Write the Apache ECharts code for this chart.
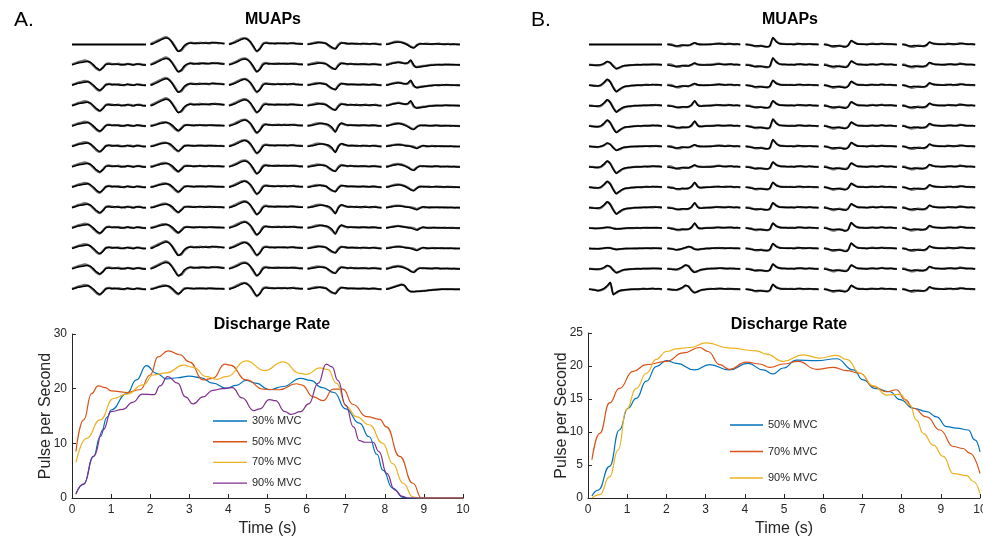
<!DOCTYPE html>
<html><head><meta charset="utf-8">
<script src="https://cdn.jsdelivr.net/npm/echarts@6.0.0/dist/echarts.min.js"></script>
<style>html,body{margin:0;padding:0;background:#fff}#c{width:983px;height:539px}</style>
</head><body><div id="c"></div>
<script>
// ---------------- Discharge rate data (time s, pulses per second) ----------------
const rateA30 = [[0.1,0.8],[0.3,2.5],[0.55,7.6],[0.72,11.2],[0.9,14.8],[1.0,16.1],[1.4,19.1],[1.65,21.6],[1.9,24.2],[2.16,22.8],[2.42,21.8],[2.7,22],[3.0,22.3],[3.3,22],[3.6,21],[3.95,20.1],[4.2,20.6],[4.45,21.5],[4.7,21],[5.05,19.8],[5.4,20.4],[5.85,21.9],[6.1,21.5],[6.4,20.2],[6.7,19.3],[7.0,16.3],[7.35,13.7],[7.6,11.2],[7.8,8],[7.95,5.1],[8.2,1.8],[8.47,0.1],[8.6,0],[10,0]];
const rateA50 = [[0.1,8.5],[0.3,14.3],[0.5,19.1],[0.67,20.5],[0.85,20.2],[1.0,19.6],[1.4,19.3],[1.74,19.8],[2.0,22.5],[2.2,25.8],[2.46,26.9],[2.76,26.2],[3.0,24.9],[3.36,21.6],[3.6,21.9],[3.91,24.5],[4.04,24.3],[4.46,21.6],[4.9,19.9],[5.3,19.8],[5.74,20.9],[5.87,20.7],[6.17,18.5],[6.42,17.8],[6.68,19.9],[6.93,19.9],[7.19,17.1],[7.53,14.9],[7.87,14.4],[8.04,13],[8.38,7.6],[8.72,2.7],[8.94,0],[10,0]];
const rateA70 = [[0.1,6.5],[0.37,10.9],[0.72,14.3],[1.06,18.2],[1.4,19],[1.82,20.7],[2.08,22.5],[2.42,22.9],[2.85,24.3],[3.1,23.9],[3.44,22.2],[3.7,21.7],[3.95,22.2],[4.46,25.1],[4.92,23.3],[5.4,24.9],[5.83,22.8],[6.0,22.6],[6.34,23.8],[6.55,23.5],[6.76,21],[7.02,16.7],[7.27,14.9],[7.6,13.4],[7.95,10],[8.2,6.3],[8.47,2.7],[8.72,0.2],[8.85,0],[10,0]];
const rateA90 = [[0.1,0.7],[0.3,2.6],[0.55,7.6],[0.8,12.5],[1.0,15.8],[1.3,16.2],[1.55,17.5],[1.8,19],[2.1,18.9],[2.25,20.5],[2.45,22.2],[2.7,21],[2.9,18.5],[3.1,17.2],[3.35,18.5],[3.6,19.7],[3.85,20],[4.1,20.2],[4.35,18.3],[4.65,16],[4.8,16.3],[5.05,18],[5.2,17.8],[5.45,15.8],[5.6,15.3],[5.85,15.8],[6.05,17.2],[6.3,21],[6.5,24.5],[6.65,24],[6.8,21.5],[7.0,17],[7.2,13],[7.35,10.5],[7.5,10.2],[7.7,10.2],[7.85,8.5],[8.05,4.5],[8.25,1.5],[8.45,0.3],[8.6,0],[10,0]];

const rateB50 = [[0.1,0.3],[0.26,1.2],[0.55,4.8],[0.8,10.3],[1.02,13.6],[1.23,15.1],[1.49,17.7],[1.74,19.9],[2.0,20.8],[2.26,20.4],[2.72,19.4],[3.1,20.2],[3.6,19.4],[4.08,20.4],[4.47,19.4],[4.72,18.8],[4.98,19.7],[5.32,20.9],[5.83,20.8],[6.34,21.1],[6.77,19.4],[7.02,17.9],[7.32,16.6],[7.7,16.1],[7.96,14.9],[8.3,13.6],[8.64,13.1],[8.89,12.3],[9.15,10.8],[9.4,10.6],[9.7,10.3],[9.87,8.8],[10,7]];
const rateB70 = [[0.1,5.8],[0.3,9.8],[0.55,14.4],[0.8,16.6],[1.15,19.2],[1.49,20.2],[2.0,20.7],[2.43,22],[2.85,22.8],[3.06,22.2],[3.36,20.2],[3.6,19.5],[4.04,20.6],[4.38,20.3],[4.64,19.8],[4.98,20.3],[5.36,20.7],[5.83,19.5],[6.26,19.8],[6.6,19.3],[6.94,18.9],[7.28,16.9],[7.62,16.1],[7.87,16.4],[8.09,14.9],[8.3,13.6],[8.64,12.3],[8.98,10.3],[9.32,7.8],[9.57,7.5],[9.74,6.8],[10,3.7]];
const rateB90 = [[0.1,0],[0.3,0.5],[0.55,3.2],[0.77,7.3],[0.98,13.4],[1.23,16.6],[1.49,18.9],[1.74,21],[2.0,22.2],[2.26,22.6],[2.6,22.8],[3.02,23.5],[3.62,22.7],[4.3,22.3],[4.55,21.8],[4.98,20.7],[5.49,21.7],[5.91,21.2],[6.34,21.6],[6.6,21],[6.94,18.9],[7.28,17],[7.62,15.6],[7.96,15.7],[8.21,14.1],[8.38,11.8],[8.55,9.8],[8.81,8],[9.06,6.3],[9.32,3.7],[9.66,3.4],[9.83,2.5],[10,0.7]];

const legendA = ['30% MVC','50% MVC','70% MVC','90% MVC'];
const legendB = ['50% MVC','70% MVC','90% MVC'];
const ticksA = [0,10,20,30];
const ticksB = [0,5,10,15,20,25];
const xTicks = [0,1,2,3,4,5,6,7,8,9,10];

// ---------------- MUAP waveform templates (two overlaid traces each) ----------------
const FLAT = [0,0];
const A_c0_1 = [0,1,2,2.5,3,3.5,2.5,0,-3,-5,-3,0.5,1,0.5,1,0.5,0,0.5,1,0.3,0,1,0.5,0,0];
const A_c0_2 = [0.5,1.5,2.8,3.5,4.5,4,2,-1,-4,-5.5,-2.5,0.8,1.5,1,0.5,1.2,0.5,0,1,0.8,0.2,0.8,1,0.2,0];
const A_c1_1 = [0,1,2.5,4,5.5,6.5,5.5,2,-3,-7,-5,-1,1,1.5,1,1.5,1,1.8,1.2,1.5,2,1.5,1.8,1,1];
const A_c1_2 = [0.5,2,3.5,5,6.5,7.5,6,2.5,-2,-6.5,-6,-2,0.5,2,1.5,1,2,1.2,1.8,1,1.6,2,1.2,1.5,0.8];
const A_c1s_1 = [0,0.5,1.5,2.5,3,3.5,3,1,-2,-4.5,-2.5,0.5,1,0.8,0.5,1,0.8,1,0.5,0.8,1,0.5,0.8,0.5,0.3];
const A_c1s_2 = [0.5,1,2,3,4,4,2.5,0,-3,-5,-2,1,1.2,1,0.8,0.6,1.2,0.6,0.9,1.1,0.6,0.9,0.5,0.6,0.4];
const A_c2_1 = [0,1,2,3.5,5,6,5,2.5,-2,-6.5,-4.5,0,1.5,1,1.2,0.8,1,1.2,1,0.8,1.5,1,0.8,0.5,0.5];
const A_c2_2 = [0.5,1.5,3,4.5,6,6.5,5.5,2,-3,-7,-4,1,2,1.5,1,1.3,1.5,1,1.4,1.2,1,1.6,1,0.8,0.6];
const A_c3_1 = [0,0.5,1,1.5,2,1.5,1,-1,-3,-4.5,-1,1.5,1.5,1,0.8,1,0.5,0.8,1,0.5,0.5,1,0.5,0.3,0];
const A_c3_2 = [0.5,1,1.8,2.5,2.2,2,1,-1.5,-3.5,-4,0,2,1.2,0.6,1.2,0.6,1,0.4,0.6,1,0.4,0.5,1,0.2,0.2];
const A_c3s_1 = [0,0.5,1,1.8,2.5,2.5,2,1,-1.5,-6,-0.5,3,2,1,0.8,1,0.5,0.8,1,0.5,0.5,1,0.5,0.3,0];
const A_c3s_2 = [0.5,1,2,2.8,3,2.5,1.5,0,-2.5,-5.5,0.5,2.5,1.5,0.8,1.2,0.6,1,0.4,0.6,1,0.4,0.5,1,0.2,0.2];
const A_c4a_1 = [0,0.5,1.5,2,2.5,2,1,-0.5,-2.5,-3.5,-1,0.5,0.8,0.5,0.3,0.5,0.8,0.4,0.2,0.5,0.3,0.1,0.4,0,0];
const A_c4a_2 = [0.5,1,2,2.8,3,2.5,1.5,0,-2,-3,-0.5,1,0.5,0.8,0.6,0.3,0.5,0.8,0.5,0.2,0.6,0.4,0.2,0.3,0];
const A_c4b_1 = [0,0.5,1.5,2,2.5,2,1.5,2,5,0,-2.5,-2,-1.5,-1,-0.5,-0.3,0,0.3,0,0.5,0.2,0.4,0.1,0.2,0];
const A_c4b_2 = [0.5,1,2,2.5,3,2.5,1.5,1.5,4,-1,-2,-1.5,-1,-0.8,-0.2,0,0.3,0,0.4,0.2,0.5,0.1,0.3,0,0];
const A_c4c_1 = [0,0.5,1,1.5,1.8,1.5,1,0.5,0,-1,-2,-0.5,1,0.5,0,0.3,0.5,0.2,0.4,0.1,0.3,0.2,0,0.1,0];
const A_c4c_2 = [0.3,0.8,1.5,2,2.2,1.8,1.2,0.8,0.5,0,-1.5,0,0.5,0.2,0.5,0.6,0.2,0.5,0.2,0.4,0.1,0.3,0.2,0,0];
const A_c4d_1 = [0,0.5,1.5,2.5,3.5,4.5,4,0,-2.5,-2.5,-2,-2,-1.8,-1.5,-1,-0.8,-0.5,-0.3,0,0,0.2,0,0.1,0,0];
const A_c4d_2 = [0.5,1,2,3,4,5,3.5,-0.5,-2,-2.2,-2.2,-1.8,-1.5,-1.2,-0.8,-0.5,-0.3,0,0.2,0.2,0,0.2,0,0,0];

const B_c0_1 = [0,-0.3,-0.6,-0.4,0.5,3,6,3,-2.5,-6.5,-4,-2,-1,-0.6,-0.3,-0.1,0,0.2,0.4,0.2,0.5,0.8,0.4,0.6,0.2];
const B_c0_2 = [0.3,0,-0.3,-0.8,0,2.5,5.5,3.5,-2,-6,-4.5,-2.5,-1.2,-0.8,-0.4,0,0.2,0,0.3,0.6,0.3,0.4,0.8,0.3,0];
const B_c0m_1 = [0,-0.2,-0.4,-0.2,0.3,1.5,3.5,2,-1.5,-4,-2.5,-1.2,-0.6,-0.3,-0.1,0,0.1,0.2,0.3,0.2,0.4,0.6,0.3,0.4,0.1];
const B_c0m_2 = [0.3,0,-0.3,-0.6,0,1.2,3,2.2,-1,-3.5,-3,-1.5,-0.8,-0.4,-0.2,0,0.2,0,0.3,0.5,0.2,0.3,0.6,0.2,0];
const B_c0t_1 = [0,-0.2,-0.3,-0.2,0,0.4,0.8,0.5,-0.5,-1,-0.6,-0.3,-0.1,0,0.1,0,0.1,0.2,0.3,0.2,0.3,0.4,0.2,0.3,0.1];
const B_c0t_2 = [0.2,0,-0.2,-0.4,0,0.3,0.6,0.6,-0.2,-0.8,-0.7,-0.4,-0.2,0,0,0.1,0.2,0,0.2,0.4,0.2,0.2,0.4,0.1,0];
const B_c0x_1 = [0,-0.3,-0.8,-1.2,-0.5,1,3.5,7,-5.5,-3,-1.5,-0.8,-0.5,-0.2,0,0,0.2,0.3,0.5,0.2,0.6,0.8,0.4,0.5,0.2];
const B_c0x_2 = [0.3,-0.2,-0.5,-1.5,-0.8,0.5,3,6.5,-5,-3.5,-1.8,-1,-0.5,-0.3,0,0.2,0,0.3,0.6,0.3,0.5,0.6,0.3,0.4,0];
const B_c1_1 = [0,-0.5,-1,-1.5,-1,-0.5,-1,-0.8,0.5,1.8,0.5,0,0,0,0,0.2,0.5,0.8,0.5,0.3,0.5,0.8,0.3,0.5,0];
const B_c1_2 = [0.5,0.5,-0.5,-2,-2,-1,-0.5,-1,0,1.5,0.3,0.2,0,0.2,0.3,0.5,1,1.2,0.8,0.3,0.8,0.5,0.1,0.3,0];
const B_c1s_1 = [0,-0.5,-0.8,-1.5,-1.5,-1,-1.2,-1,1,5,0.5,-0.5,-0.2,0,0,0.2,0.5,0.8,0.5,0.3,0.5,0.8,0.3,0.5,0];
const B_c1s_2 = [0.4,0,-0.5,-1.8,-2,-1.5,-1.5,-1.2,0.5,4.5,1,-0.3,0,0.2,0.3,0.5,0.8,0.5,0.3,0.6,0.8,0.4,0.2,0.3,0];
const B_c1m_1 = [0,-0.3,-0.8,-1.2,-0.8,0,1,2,1,-0.8,-1,-0.5,-0.2,0,0,0.3,0.5,0.3,0.6,0.3,0.2,0.4,0.2,0.3,0];
const B_c1m_2 = [0.3,0,-0.5,-1.5,-1.2,-0.3,0.8,1.6,1.2,-0.5,-1.2,-0.6,-0.3,0.1,0.2,0.5,0.3,0.6,0.3,0.2,0.5,0.3,0.1,0.2,0];
const B_c1b_1 = [0,-0.3,-0.6,-0.5,0.5,2,4,2.5,-1.5,-3.5,-2,-0.8,-0.3,0,0.2,0.5,0.3,0.6,0.8,0.4,0.2,0.5,0.3,0.2,0];
const B_c1b_2 = [0.3,0,-0.3,-0.8,0,1.5,3.5,3,-1,-3,-2.5,-1,-0.5,0.2,0.4,0.3,0.6,0.9,0.5,0.3,0.6,0.4,0.2,0.1,0];
const B_c2_1 = [0,-0.3,-1,-1.5,-1.2,-1.5,-2,-2.2,-1,7,3,1,0.5,0.3,0.2,0.2,0,0.5,0.8,0.5,0.2,0.6,0.3,0.2,0];
const B_c2_2 = [0.3,0,-0.5,-1.8,-2,-1.2,-1.6,-2.5,-1.5,6.5,3.5,1.2,0.6,0.5,0.3,0.5,0.3,0.8,0.5,0.2,0.4,0.5,0.2,0.1,0];
const B_c2m_1 = [0,-0.3,-1,-1.5,-1.2,-1.5,-2,-2,-0.8,5,2,0.8,0.4,0.3,0.2,0.2,0,0.5,0.8,0.5,0.2,0.6,0.3,0.2,0];
const B_c2m_2 = [0.3,0,-0.5,-1.8,-2,-1.2,-1.6,-2.3,-1.2,4.5,2.5,1,0.5,0.5,0.3,0.5,0.3,0.8,0.5,0.2,0.4,0.5,0.2,0.1,0];
const B_c3_1 = [0,-0.5,-1,-1.5,-1.2,-1.5,-2,-2.5,-1,4,2,0.5,0.3,0.2,0,0.3,0.5,0.2,0.5,0.8,0.3,0.5,0.6,0.2,0];
const B_c3_2 = [0.5,0,-1.5,-2.5,-2,-1,-1.5,-2,-0.5,3.5,2.2,0.8,0.5,0.4,0.2,0.5,0.8,0.4,0.3,1,0.6,0.3,0.4,0.1,0];
const B_c3b_1 = [0,-0.5,-1,-1.5,-1.2,-1.5,-2,-3,-1.5,5.5,2.5,0.8,0.4,0.2,0,0.3,0.5,0.2,0.5,0.8,0.3,0.5,0.6,0.2,0];
const B_c3b_2 = [0.5,0,-1.5,-2.5,-2,-1,-1.5,-2.5,-1,5,2.8,1,0.5,0.4,0.2,0.5,0.8,0.4,0.3,1,0.6,0.3,0.4,0.1,0];
const B_c4_1 = [0,-0.5,-1.2,-1.5,-1,-1.5,-1.8,-1.5,-0.5,2.5,1,0.5,0.3,0.2,0,0.5,0.8,0.5,0.3,0.8,1,0.5,0.3,0.5,0];
const B_c4_2 = [0.5,0,-1.5,-2.5,-2.2,-1,-1.2,-1.8,-0.8,2,1.2,0.6,0.4,0.3,0.5,0.8,0.4,0.2,0.6,1.5,0.8,0.3,0.4,0.2,0];

// which template sits in each cell (13 rows x 5 columns)
const muapMapA = [
  ['flat','c1','c2','c3','c4a'],
  ['c0','c1','c2','c3','c4b'],
  ['c0','c1','c2','c3','c4b'],
  ['c0','c1','c2','c3','c4b'],
  ['c0','c1s','c2','c3s','c4a'],
  ['c0','c1s','c2','c3s','c4c'],
  ['c0','c1s','c2','c3','c4a'],
  ['c0','c1s','c2','c3','c4a'],
  ['c0','c1s','c2','c3s','c4c'],
  ['c0','c1s','c2','c3s','c4c'],
  ['c0','c1','c2','c3','c4c'],
  ['c0','c1','c2','c3','c4a'],
  ['c0','c1s','c2','c3','c4d']
];
const muapMapB = [
  ['flat','c1','c2','c3','c4'],
  ['c0m','c1','c2','c3','c4'],
  ['c0','c1','c2m','c3','c4'],
  ['c0','c1s','c2m','c3','c4'],
  ['c0','c1s','c2','c3','c4'],
  ['c0m','c1','c2','c3','c4'],
  ['c0','c1','c2m','c3','c4'],
  ['c0','c1s','c2m','c3','c4'],
  ['c0','c1s','c2m','c3','c4'],
  ['c0t','c1s','c2m','c3b','c4'],
  ['c0t','c1m','c2m','c3b','c4'],
  ['c0m','c1b','c2m','c3','c4'],
  ['c0x','c1b','c2m','c3','c4']
];

const tplA = {flat:[FLAT], c0:[A_c0_2,A_c0_1], c1:[A_c1_2,A_c1_1], c1s:[A_c1s_2,A_c1s_1], c2:[A_c2_2,A_c2_1],
  c3:[A_c3_2,A_c3_1], c3s:[A_c3s_2,A_c3s_1], c4a:[A_c4a_2,A_c4a_1], c4b:[A_c4b_2,A_c4b_1], c4c:[A_c4c_2,A_c4c_1], c4d:[A_c4d_2,A_c4d_1]};
const tplB = {flat:[FLAT], c0:[B_c0_2,B_c0_1], c0m:[B_c0m_2,B_c0m_1], c0t:[B_c0t_2,B_c0t_1], c0x:[B_c0x_2,B_c0x_1],
  c1:[B_c1_2,B_c1_1], c1s:[B_c1s_2,B_c1s_1], c1m:[B_c1m_2,B_c1m_1], c1b:[B_c1b_2,B_c1b_1],
  c2:[B_c2_2,B_c2_1], c2m:[B_c2m_2,B_c2m_1], c3:[B_c3_2,B_c3_1], c3b:[B_c3b_2,B_c3b_1], c4:[B_c4_2,B_c4_1]};

// ---------------- build option ----------------
const FONT = 'Liberation Sans, Arial, Helvetica, sans-serif';
const INK = '#262626';
const grids = [], xAxes = [], yAxes = [], series = [];

function addMuapPanel(map, tpl, left0, colStep, cellW) {
  for (let r = 0; r < map.length; r++) {
    for (let c = 0; c < map[r].length; c++) {
      const gi = grids.length;
      const cy = 44.5 + r * 20.4;
      grids.push({left: left0 + c * colStep, top: cy - 10, width: cellW, height: 20, outerBoundsMode: 'none'});
      xAxes.push({gridIndex: gi, type: 'category', boundaryGap: false, show: false});
      yAxes.push({gridIndex: gi, type: 'value', min: -10, max: 10, show: false});
      const isFlat = map[r][c] === 'flat';
      tpl[map[r][c]].forEach((d, k) => {
        series.push({type: 'line', xAxisIndex: gi, yAxisIndex: gi, data: d, symbol: 'none', silent: true,
          smooth: 0.2, clip: false,
          lineStyle: {color: isFlat ? '#000' : (k === 0 ? '#6e6e6e' : '#000'), width: isFlat ? 2 : (k === 0 ? 2.2 : 1.5)}});
      });
    }
  }
}
addMuapPanel(muapMapA, tplA, 72, 78.5, 74);
addMuapPanel(muapMapB, tplB, 589, 78.3, 73);

function axisCommon() {
  return {
    axisLine: {show: true, onZero: false, lineStyle: {color: INK, width: 1}},
    axisTick: {show: true, inside: true, length: 4, lineStyle: {color: INK}},
    axisLabel: {color: INK, fontSize: 12, fontFamily: FONT},
    splitLine: {show: false},
    nameLocation: 'middle',
    nameMoveOverlap: false,
    nameTextStyle: {color: INK, fontSize: 16, fontFamily: FONT}
  };
}
function addRatePanel(left, width, top, height, yMax, yInt, sers) {
  const gi = grids.length;
  grids.push({left, width, top, height, outerBoundsMode: 'none', containLabel: false});
  const xa = Object.assign(axisCommon(), {gridIndex: gi, type: 'value', min: xTicks[0], max: xTicks[xTicks.length-1], interval: 1,
    name: 'Time (s)', nameGap: 23});
  xa.axisLabel = Object.assign({}, xa.axisLabel, {margin: 6});
  xAxes.push(xa);
  const ya = Object.assign(axisCommon(), {gridIndex: gi, type: 'value', min: 0, max: yMax, interval: yInt,
    name: 'Pulse per Second', nameGap: 18});
  ya.axisLabel = Object.assign({}, ya.axisLabel, {margin: 5});
  yAxes.push(ya);
  sers.forEach(s => series.push({type: 'line', name: s.name, xAxisIndex: gi, yAxisIndex: gi, data: s.data,
    symbol: 'none', smooth: 0.5, smoothMonotone: 'x', lineStyle: {color: s.color, width: 1.2}, itemStyle: {color: s.color}}));
}
addRatePanel(72, 391, 334, 164, ticksA[ticksA.length-1], ticksA[1], [
  {name: legendA[0], data: rateA30, color: '#0072BD'},
  {name: legendA[1], data: rateA50, color: '#D95319'},
  {name: legendA[2], data: rateA70, color: '#EDB120'},
  {name: legendA[3], data: rateA90, color: '#7E2F8E'}
]);
addRatePanel(588, 392, 333, 165, ticksB[ticksB.length-1], ticksB[1], [
  {name: legendB[0] + ' ', data: rateB50, color: '#0072BD'},
  {name: legendB[1] + ' ', data: rateB70, color: '#D95319'},
  {name: legendB[2] + ' ', data: rateB90, color: '#EDB120'}
]);

const titleStyle = {color: '#000', fontSize: 16, fontWeight: 'bold', fontFamily: FONT};
const legendText = {color: INK, fontSize: 11, fontFamily: FONT, lineHeight: 14};
const option = {
  animation: false,
  textStyle: {fontFamily: FONT},
  title: [
    {text: 'A.', left: 9, top: 5, textStyle: {color: '#000', fontSize: 21, fontWeight: 'normal', fontFamily: FONT}},
    {text: 'B.', left: 526, top: 5, textStyle: {color: '#000', fontSize: 21, fontWeight: 'normal', fontFamily: FONT}},
    {text: 'MUAPs', left: 268, textAlign: 'center', top: 7, textStyle: titleStyle},
    {text: 'MUAPs', left: 785, textAlign: 'center', top: 7, textStyle: titleStyle},
    {text: 'Discharge Rate', left: 267, textAlign: 'center', top: 312, textStyle: titleStyle},
    {text: 'Discharge Rate', left: 784, textAlign: 'center', top: 312, textStyle: titleStyle}
  ],
  legend: [
    {data: legendA, orient: 'vertical', left: 213, top: 414, padding: 0, icon: 'rect', itemWidth: 34, itemHeight: 1.4, itemGap: 6.7,
      textStyle: legendText, selectedMode: false},
    {data: legendB.map(n => n + ' '), orient: 'vertical', left: 730, top: 418, padding: 0, icon: 'rect', itemWidth: 33, itemHeight: 1.4, itemGap: 12.5,
      textStyle: legendText, selectedMode: false}
  ],
  grid: grids, xAxis: xAxes, yAxis: yAxes, series
};
const chart = echarts.init(document.getElementById('c'), null, {renderer: 'canvas'});
chart.setOption(option);
</script></body></html>
